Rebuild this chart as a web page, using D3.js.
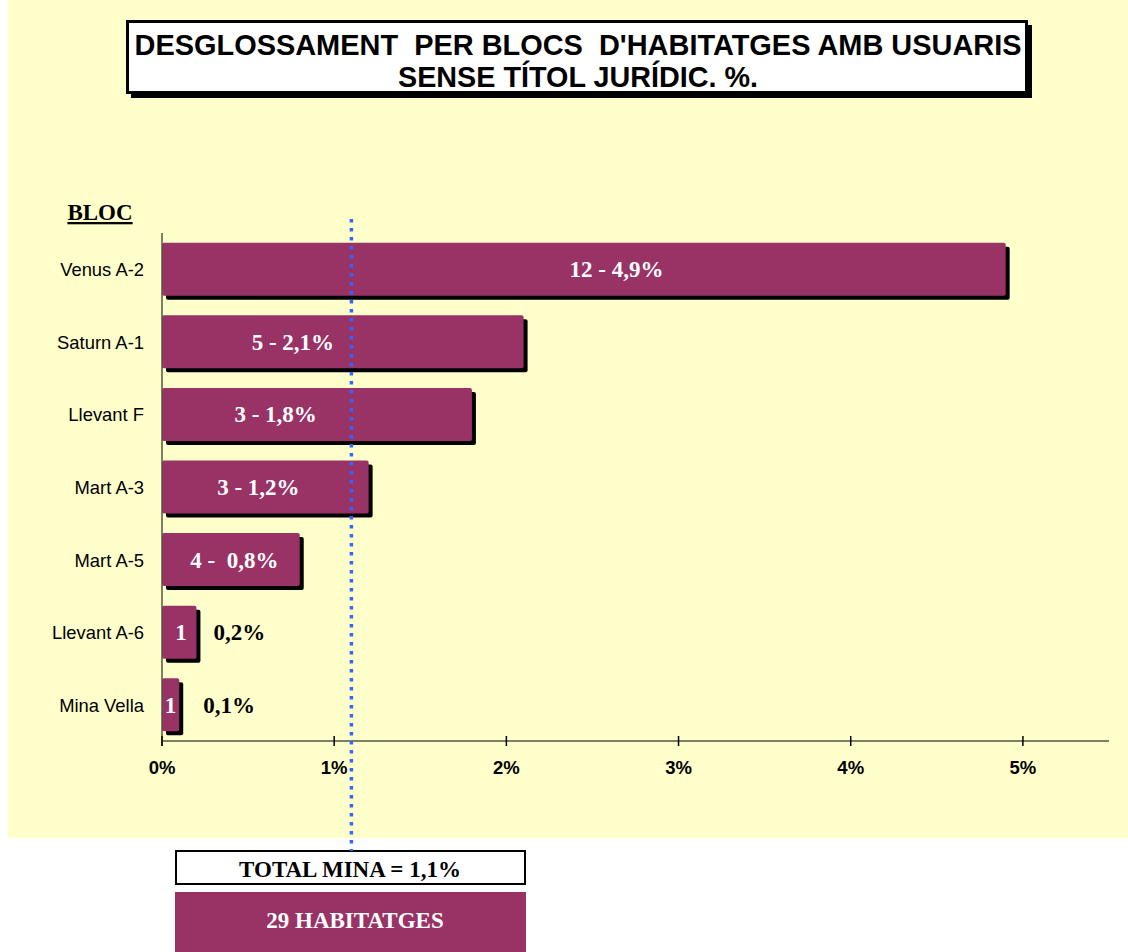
<!DOCTYPE html>
<html>
<head>
<meta charset="utf-8">
<script src="https://cdn.jsdelivr.net/npm/d3@7"></script>
<style>
  body { margin: 0; background: #fff; }
  svg { display: block; }
</style>
</head>
<body>
<script>
// chart data
var blocs = ['Venus A-2', 'Saturn A-1', 'Llevant F', 'Mart A-3', 'Mart A-5', 'Llevant A-6', 'Mina Vella'];
var percents = [4.9, 2.1, 1.8, 1.2, 0.8, 0.2, 0.1];
var innerLabels = ['12 - 4,9%', '5 - 2,1%', '3 - 1,8%', '3 - 1,2%', '4 -  0,8%', '1', '1'];
var innerLabelAt = [2.64, 0.76, 0.66, 0.56, 0.42, 0.11, 0.05];
var outerLabels = ['', '', '', '', '', '0,2%', '0,1%'];
var outerLabelAt = [0, 0, 0, 0, 0, 0.45, 0.39];
var tickValues = [0, 1, 2, 3, 4, 5];
var totalValue = 1.1;
var totalLabel = 'TOTAL MINA = 1,1%';
var totalHouses = '29 HABITATGES';

var W = 1128, H = 952;
var barColor = '#993366';
var serif = "'Liberation Serif', 'Times New Roman', serif";
var sans = "'Liberation Sans', Arial, sans-serif";

var svg = d3.select('body').append('svg').attr('width', W).attr('height', H);

// yellow panel
svg.append('rect').attr('x', 8).attr('y', 0).attr('width', W - 8).attr('height', 838).attr('fill', '#ffffcc');

// title box with shadow
svg.append('rect').attr('x', 131).attr('y', 25).attr('width', 901).attr('height', 73).attr('fill', '#000');
svg.append('rect').attr('x', 127.5).attr('y', 21.5).attr('width', 899).attr('height', 71)
    .attr('fill', '#fff').attr('stroke', '#000').attr('stroke-width', 3);
var title = svg.append('text').attr('text-anchor', 'middle')
    .attr('font-family', sans)
    .attr('font-weight', 'bold').attr('font-size', 30).attr('fill', '#000');
title.append('tspan').attr('x', 578).attr('y', 55).attr('xml:space', 'preserve')
    .attr('textLength', 887).attr('lengthAdjust', 'spacingAndGlyphs')
    .text("DESGLOSSAMENT  PER BLOCS  D'HABITATGES AMB USUARIS");
title.append('tspan').attr('x', 578).attr('y', 87)
    .attr('textLength', 360).attr('lengthAdjust', 'spacingAndGlyphs')
    .text('SENSE TÍTOL JURÍDIC. %.');

// scales
var x = d3.scaleLinear().domain([0, 5.5]).range([162, 1109]);
var y = d3.scaleBand().domain(blocs).range([233, 741]).paddingInner(0.27).paddingOuter(0.135);

var rows = blocs.map(function (b, i) {
    return { name: b, value: percents[i], inner: innerLabels[i], innerAt: innerLabelAt[i],
             outer: outerLabels[i], outerAt: outerLabelAt[i] };
});

// BLOC header
svg.append('text').attr('x', 100).attr('y', 220).attr('text-anchor', 'middle')
    .attr('font-family', serif).attr('font-weight', 'bold').attr('font-size', 23)
    .attr('text-decoration', 'underline').text('BLOC');

// bar shadows
svg.append('g').selectAll('rect').data(rows).enter().append('rect')
    .attr('x', x(0) + 4)
    .attr('y', function (d) { return y(d.name) + 4; })
    .attr('width', function (d) { return x(d.value) - x(0); })
    .attr('height', y.bandwidth())
    .attr('rx', 2).attr('fill', '#000');

// bars
svg.append('g').selectAll('rect').data(rows).enter().append('rect')
    .attr('x', x(0))
    .attr('y', function (d) { return y(d.name); })
    .attr('width', function (d) { return x(d.value) - x(0); })
    .attr('height', y.bandwidth())
    .attr('rx', 2).attr('fill', barColor);

// axes lines
svg.append('line').attr('x1', x(0)).attr('x2', x(0)).attr('y1', 233).attr('y2', 746)
    .attr('stroke', '#555544').attr('stroke-width', 1.5);
svg.append('line').attr('x1', x(0)).attr('x2', x(5.5)).attr('y1', 741).attr('y2', 741)
    .attr('stroke', '#555544').attr('stroke-width', 1.5);

// x ticks
var ticks = svg.append('g').selectAll('g').data(tickValues).enter().append('g');
ticks.append('line')
    .attr('x1', function (d) { return x(d); }).attr('x2', function (d) { return x(d); })
    .attr('y1', 736).attr('y2', 746).attr('stroke', '#000').attr('stroke-width', 1.5);
ticks.append('text')
    .attr('x', function (d) { return x(d); }).attr('y', 774)
    .attr('text-anchor', 'middle').attr('font-family', sans).attr('font-weight', 'bold')
    .attr('font-size', 18.5).text(function (d) { return d + '%'; });

// category labels
svg.append('g').selectAll('text').data(rows).enter().append('text')
    .attr('x', 144)
    .attr('y', function (d) { return y(d.name) + y.bandwidth() / 2 + 7; })
    .attr('text-anchor', 'end').attr('font-family', sans).attr('font-size', 18.4)
    .attr('fill', '#000').text(function (d) { return d.name; });

// labels inside the bars
svg.append('g').selectAll('text').data(rows).enter().append('text')
    .attr('x', function (d) { return x(d.innerAt); })
    .attr('y', function (d) { return y(d.name) + y.bandwidth() / 2 + 8; })
    .attr('text-anchor', 'middle').attr('xml:space', 'preserve')
    .attr('font-family', serif).attr('font-weight', 'bold').attr('font-size', 23)
    .attr('fill', '#fff').text(function (d) { return d.inner; });

// labels outside small bars
svg.append('g').selectAll('text').data(rows.filter(function (d) { return d.outer; })).enter().append('text')
    .attr('x', function (d) { return x(d.outerAt); })
    .attr('y', function (d) { return y(d.name) + y.bandwidth() / 2 + 8; })
    .attr('text-anchor', 'middle')
    .attr('font-family', serif).attr('font-weight', 'bold').attr('font-size', 23)
    .attr('fill', '#000').text(function (d) { return d.outer; });

// total boxes
svg.append('rect').attr('x', 176).attr('y', 851).attr('width', 349).attr('height', 33)
    .attr('fill', '#fff').attr('stroke', '#000').attr('stroke-width', 2);
svg.append('rect').attr('x', 175).attr('y', 892).attr('width', 351).attr('height', 60)
    .attr('fill', barColor);

// total line
svg.append('line').attr('x1', x(totalValue)).attr('x2', x(totalValue)).attr('y1', 219).attr('y2', 851)
    .attr('stroke', '#3366ff').attr('stroke-width', 3.5).attr('stroke-dasharray', '3.5,5.5');

svg.append('text').attr('x', 350).attr('y', 877).attr('text-anchor', 'middle')
    .attr('font-family', serif).attr('font-weight', 'bold').attr('font-size', 23)
    .text(totalLabel);
svg.append('text').attr('x', 355).attr('y', 928).attr('text-anchor', 'middle')
    .attr('font-family', serif).attr('font-weight', 'bold').attr('font-size', 23)
    .attr('fill', '#fff').text(totalHouses);
</script>
</body>
</html>
